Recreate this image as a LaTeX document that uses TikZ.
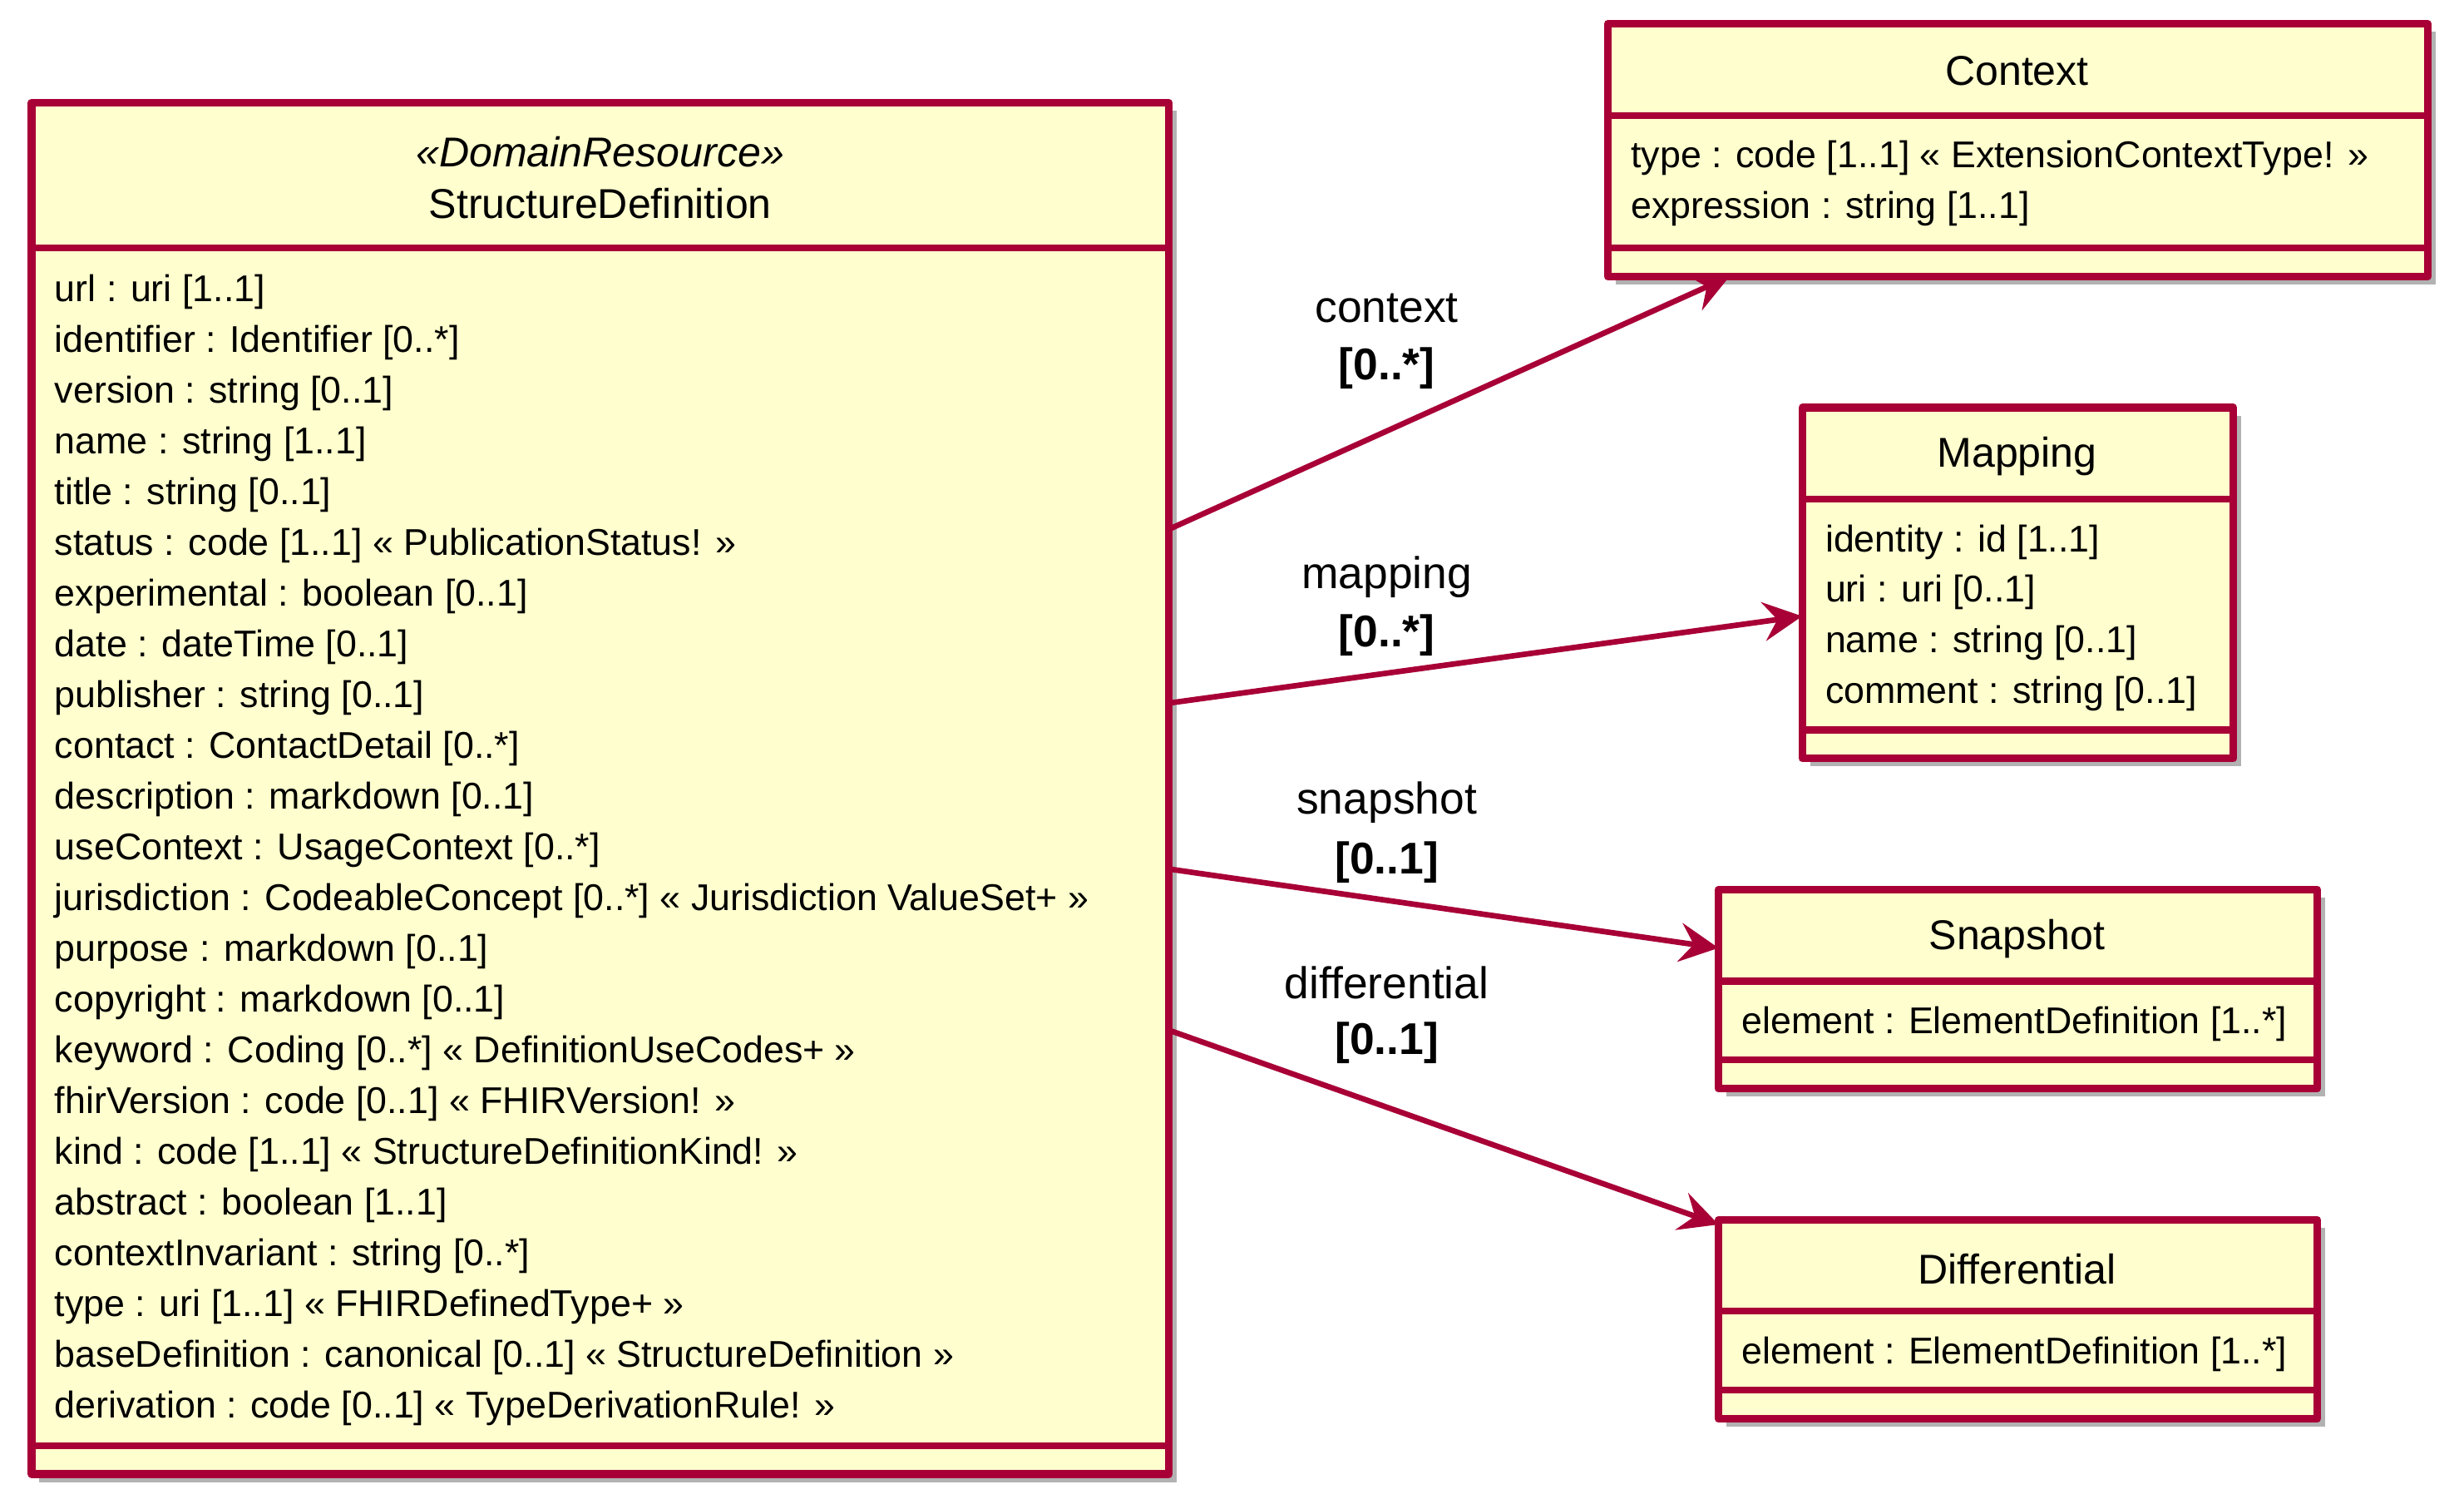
\documentclass[tikz,border=0pt]{standalone}
\usepackage{fontspec}
\setmainfont{Liberation Sans}
\usetikzlibrary{arrows.meta,calc}
\definecolor{umlfill}{HTML}{FEFECE}
\definecolor{umlline}{HTML}{A80036}
\tikzset{
  box/.style={draw=umlline,fill=umlfill,line width=1.4pt},
  shadow/.style={fill=black!30},
  sep/.style={draw=umlline,line width=1.2pt},
  attr/.style={anchor=west,inner sep=0pt,font=\fontsize{6.7pt}{8pt}\selectfont},
  title/.style={inner sep=0pt,font=\fontsize{7.5pt}{9pt}\selectfont},
  rel/.style={draw=umlline,line width=1pt,-{Stealth[length=7pt,width=7pt,inset=2.5pt]}},
  role/.style={inner sep=0pt,font=\fontsize{8pt}{9pt}\selectfont},
  mult/.style={inner sep=0pt,font=\bfseries\fontsize{8pt}{9pt}\selectfont}
}
% draw a class frame: x1,y1,x2,y2
\newcommand{\umlbox}[4]{%
  \fill[shadow] (#1+5,#2+5) rectangle (#3+5,#4+5);
  \draw[box] (#1,#2) rectangle (#3,#4);}
\begin{document}
\begin{tikzpicture}[x=0.01cm,y=-0.01cm,line cap=round,line join=round]
\useasboundingbox (0,0) rectangle (1560,955);
% StructureDefinition
\umlbox{20}{65}{740}{933}
\draw[sep] (20,157) -- (740,157);
\draw[sep] (20,915) -- (740,915);
\node[title] (sdst) at (380,96) {\itshape «DomainResource»};
\node[title] (sdname) at (380,129) {StructureDefinition};
\foreach \t [count=\i from 0] in {url : uri [1..1],
  identifier : Identifier [0..*],
  version : string [0..1],
  name : string [1..1],
  title : string [0..1],
  status : code [1..1] « PublicationStatus! »,
  experimental : boolean [0..1],
  date : dateTime [0..1],
  publisher : string [0..1],
  contact : ContactDetail [0..*],
  description : markdown [0..1],
  useContext : UsageContext [0..*],
  jurisdiction : CodeableConcept [0..*] « Jurisdiction ValueSet+ »,
  purpose : markdown [0..1],
  copyright : markdown [0..1],
  keyword : Coding [0..*] « DefinitionUseCodes+ »,
  fhirVersion : code [0..1] « FHIRVersion! »,
  kind : code [1..1] « StructureDefinitionKind! »,
  abstract : boolean [1..1],
  contextInvariant : string [0..*],
  type : uri [1..1] « FHIRDefinedType+ »,
  baseDefinition : canonical [0..1] « StructureDefinition »,
  derivation : code [0..1] « TypeDerivationRule! »}
  \node[attr] at (34,185+32.1*\i) {\t};
% Context
\umlbox{1018}{15}{1537}{175}
\draw[sep] (1018,73) -- (1537,73);
\draw[sep] (1018,157) -- (1537,157);
\node[title] (ctx) at (1277,45) {Context};
\node[attr] at (1032,100) {type : code [1..1] « ExtensionContextType! »};
\node[attr] at (1032,132) {expression : string [1..1]};
% Mapping
\umlbox{1141}{258}{1414}{480}
\draw[sep] (1141,316) -- (1414,316);
\draw[sep] (1141,462) -- (1414,462);
\node[title] (map) at (1277,289) {Mapping};
\foreach \t [count=\i from 0] in {identity : id [1..1], uri : uri [0..1],
  name : string [0..1], comment : string [0..1]}
  \node[attr] at (1155,343+32*\i) {\t};
% Snapshot
\umlbox{1088}{563}{1467}{689}
\draw[sep] (1088,621) -- (1467,621);
\draw[sep] (1088,671) -- (1467,671);
\node[title] (snap) at (1277,594) {Snapshot};
\node[attr] at (1102,648) {element : ElementDefinition [1..*]};
% Differential
\umlbox{1088}{772}{1467}{898}
\draw[sep] (1088,830) -- (1467,830);
\draw[sep] (1088,880) -- (1467,880);
\node[title] (diff) at (1277,803) {Differential};
\node[attr] at (1102,857) {element : ElementDefinition [1..*]};
% connectors
\coordinate (sdA) at (740,335);
\coordinate (sdB) at (740,445);
\coordinate (sdC) at (740,550);
\coordinate (sdD) at (740,652);
\coordinate (ctxIn) at (1095,175);
\coordinate (mapIn) at (1141,390);
\coordinate (snapIn) at (1088,600);
\coordinate (diffIn) at (1088,775);
\draw[rel] (sdA) -- (ctxIn);
\draw[rel] (sdB) -- (mapIn);
\draw[rel] (sdC) -- (snapIn);
\draw[rel] (sdD) -- (diffIn);
\node[role] at (878,195) {context};
\node[mult] at (878,233) {[0..*]};
\node[role] at (878,365) {mapping};
\node[mult] at (878,402) {[0..*]};
\node[role] at (878,508) {snapshot};
\node[mult] at (878,546) {[0..1]};
\node[role] at (878,622) {differential};
\node[mult] at (878,660) {[0..1]};
\end{tikzpicture}
\end{document}
